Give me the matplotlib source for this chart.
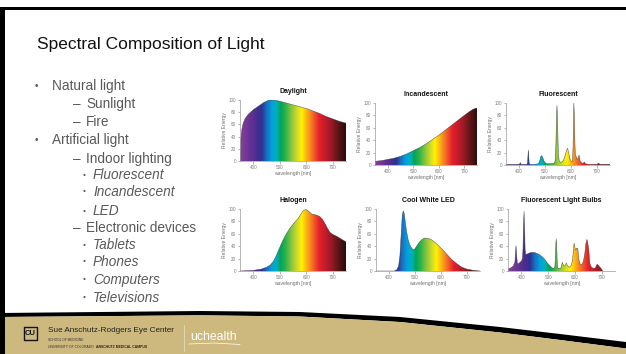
import numpy as np
import matplotlib
matplotlib.use('Agg')
import matplotlib.pyplot as plt
from matplotlib.colors import LinearSegmentedColormap, Normalize
from matplotlib.patches import Polygon, Rectangle

plt.rcParams['font.family'] = ['Liberation Sans', 'DejaVu Sans']

# ---------------- data ----------------
TITLE = 'Spectral Composition of Light'

BULLET_LEVELS = [1, 2, 2, 1, 2, 3, 3, 3, 2, 3, 3, 3, 3]
BULLET_TEXTS = ['Natural light', 'Sunlight', 'Fire', 'Artificial light',
                'Indoor lighting', 'Fluorescent', 'Incandescent', 'LED',
                'Electronic devices', 'Tablets', 'Phones', 'Computers',
                'Televisions']

PANEL_TITLES = ['Daylight', 'Incandescent', 'Fluorescent',
                'Halogen', 'Cool White LED', 'Fluorescent Light Bulbs']
X_TICKS = [400, 500, 600, 700]
Y_TICKS = [0, 20, 40, 60, 80, 100]
X_LABEL = 'wavelength [nm]'
Y_LABEL = 'Relative Energy'

DAY_NM = [350, 353, 357, 362, 370, 380, 390, 400, 420, 440, 460, 475, 490, 500,
          525, 550, 575, 600, 625, 650, 675, 700, 725, 750]
DAY_E = [0, 35, 52, 62, 70, 76, 80, 84, 90, 96, 100, 100, 99, 98,
         95, 92, 89, 86, 82, 78, 73, 69, 65, 62]

INC_NM = [350, 375, 400, 425, 450, 475, 500, 525, 550, 575, 600, 625, 650, 675,
          700, 720, 735, 750]
INC_E = [6, 7, 9, 11, 14, 18, 23, 28, 34, 41, 48, 56, 64, 72, 80, 86, 90, 92]

FLUOR_NM = [350, 380, 400, 403, 405, 408, 425, 431, 433, 435, 436, 437, 439, 441,
            460, 475, 480, 484, 487, 491, 496, 505, 520, 535, 538, 540, 542, 544,
            546, 548, 550, 552, 555, 562, 570, 575, 579, 583, 587, 591, 596, 602,
            604, 606, 608, 610, 611, 613, 615, 617, 620, 623, 627, 631, 635, 642,
            648, 651, 655, 670, 700, 706, 711, 730, 750]
FLUOR_E = [1, 1, 1, 2, 4, 1, 1, 1, 4, 18, 24, 18, 4, 1,
           1, 2, 7, 14, 15, 13, 6, 2, 2, 3, 5, 12, 35, 75,
           96, 80, 40, 15, 6, 4, 7, 12, 18, 24, 27, 20, 10, 5,
           5, 10, 30, 85, 100, 80, 35, 15, 14, 9, 11, 16, 6, 3,
           3, 5, 2, 1, 1, 3, 1, 1, 1]

HAL_NM = [350, 400, 430, 450, 465, 475, 485, 495, 505, 515, 525, 540, 555, 570,
          580, 590, 600, 610, 620, 630, 640, 650, 660, 670, 680, 690, 700, 715,
          730, 750]
HAL_E = [0, 1, 3, 6, 10, 15, 23, 33, 43, 52, 60, 70, 78, 85,
         92, 98, 99, 96, 92, 91, 90, 88, 84, 77, 69, 62, 59, 56, 52, 47]

LED_NM = [350, 420, 430, 437, 442, 447, 451, 455, 459, 463, 468, 474, 480, 487,
          494, 500, 508, 516, 525, 535, 545, 555, 565, 580, 600, 620, 640, 660,
          680, 700, 725, 750]
LED_E = [0, 0, 2, 8, 25, 60, 90, 97, 92, 78, 63, 50, 42, 37,
         34, 36, 41, 46, 50, 53, 53, 52, 50, 45, 37, 28, 19, 12, 6, 3, 1, 0]

BULB_NM = [350, 360, 370, 376, 378, 380, 382, 385, 390, 400, 404, 406, 408, 410,
           412, 414, 416, 420, 430, 440, 448, 455, 465, 475, 485, 495, 505, 515,
           521, 525, 527, 529, 530, 532, 534, 536, 540, 548, 553, 558, 563, 568,
           573, 580, 586, 590, 594, 597, 600, 603, 607, 611, 615, 620, 626, 632,
           637, 641, 645, 648, 652, 656, 662, 670, 677, 683, 688, 694, 700, 704]
BULB_E = [3, 5, 8, 15, 30, 41, 28, 12, 12, 16, 20, 35, 75, 96,
          70, 35, 27, 27, 29, 30, 30, 29, 27, 24, 20, 14, 9, 5,
          4, 6, 20, 45, 52, 40, 15, 5, 4, 5, 14, 9, 8, 13,
          8, 6, 9, 15, 30, 45, 38, 34, 37, 36, 18, 11, 10, 16,
          28, 44, 51, 46, 35, 12, 6, 4, 5, 11, 9, 6, 3, 0]

SERIES_NM = [DAY_NM, INC_NM, FLUOR_NM, HAL_NM, LED_NM, BULB_NM]
SERIES_E = [DAY_E, INC_E, FLUOR_E, HAL_E, LED_E, BULB_E]

FOOTER_NAME = 'Sue Anschutz-Rodgers Eye Center'
FOOTER_SCHOOL = 'SCHOOL OF MEDICINE'
FOOTER_UNIV = 'UNIVERSITY OF COLORADO '
FOOTER_CAMPUS = 'ANSCHUTZ MEDICAL CAMPUS'
FOOTER_BRAND = 'uchealth'

# ---------------- style / layout ----------------
SPEC_NM = [350, 380, 410, 432, 450, 470, 488, 503, 522, 545, 568, 583, 598,
           612, 630, 650, 675, 700, 725, 750]
SPEC_COL = ['#8a3f9e', '#6b3494', '#4e2d8e', '#2e3192', '#1b6fc0', '#00a2e0',
            '#00b0b8', '#00a45a', '#2fb34a', '#8cc63f', '#d7df23', '#fff200',
            '#fdc010', '#f7941d', '#f15a29', '#e5202a', '#c01b2c', '#8e1a22',
            '#561416', '#2a0c0c']
SPEC_CMAP = LinearSegmentedColormap.from_list(
    'spec', list(zip((np.array(SPEC_NM) - 350) / 400.0, SPEC_COL)))

W, H = 626, 354
GOLD = '#cdb87e'
TEXT_GREY = '#595959'

# panel boxes in pixels: left, right, top(100), bottom(0)
PANEL_BOX = [(240, 346, 100, 161), (375, 477, 103, 165), (506, 610, 103, 165),
             (240, 346, 209, 271), (376, 480, 209, 271), (508, 615, 209, 271)]
BULLET_Y = [86, 104, 122, 140, 159, 175, 192, 211, 228, 245, 262, 280, 298]

fig = plt.figure(figsize=(W / 100, H / 100), dpi=100)
fig.patch.set_facecolor('white')

bg = fig.add_axes([0, 0, 1, 1], zorder=0)
bg.set_xlim(0, W)
bg.set_ylim(H, 0)
bg.axis('off')

# slide border
bg.add_patch(Rectangle((0, 6.5), W, 3, color='black', lw=0))

# footer
fx = np.linspace(0, W, 200)
ftop = np.interp(fx, [0, 100, 200, 300, 400, 500, 560, 626],
                 [313, 312, 311, 312, 317, 327, 334, 342])
fthk = np.interp(fx, [0, 300, 500, 626], [4, 4.5, 5.5, 6.5])
bg.fill_between(fx, ftop, ftop + fthk, color='black', lw=0, zorder=2)
bg.fill_between(fx, ftop + fthk, H + 2, color=GOLD, lw=0, zorder=2)
bg.add_patch(Rectangle((0, 6.5), 4.5, H, color='black', lw=0, zorder=3))

# logo
bg.add_patch(Rectangle((23.5, 326.5), 13, 13, facecolor='none', edgecolor='#111',
                       lw=1.0, zorder=4, joinstyle='round'))
bg.text(30, 333.5, 'CU', fontsize=5.5, fontweight='bold', color='#111',
        ha='center', va='center', zorder=5)
bg.text(48, 331, FOOTER_NAME, fontsize=5.9, color='#222', ha='left',
        va='center', zorder=5)
bg.text(48, 340, FOOTER_SCHOOL, fontsize=2.3, color='#333', ha='left',
        va='center', zorder=5)
t1 = bg.text(48, 347, FOOTER_UNIV, fontsize=2.4, color='#333', ha='left',
             va='center', zorder=5)
fig.canvas.draw()
bb = t1.get_window_extent()
x_end = bg.transData.inverted().transform((bb.x1, bb.y0))[0]
bg.text(x_end + 1, 347, FOOTER_CAMPUS, fontsize=2.4, color='#222', ha='left',
        va='center', fontweight='bold', zorder=5)
bg.plot([184, 184], [325, 351], color='#e6dcbd', lw=0.6, zorder=5)
bg.text(190, 337, FOOTER_BRAND, fontsize=8.8, color='white', ha='left',
        va='center', zorder=5)
bg.plot([189, 214, 240], [344, 343, 344.5], color='white', lw=0.5, zorder=5)

# title
bg.text(37, 44, TITLE, fontsize=12.5, color='#111', ha='left', va='center')

# bullets
for lvl, txt, y in zip(BULLET_LEVELS, BULLET_TEXTS, BULLET_Y):
    if lvl == 1:
        bg.text(36, y, '•', fontsize=7, color=TEXT_GREY, ha='center', va='center')
        bg.text(52, y + 4.2, txt, fontsize=9.8, color=TEXT_GREY, ha='left',
                va='baseline')
    elif lvl == 2:
        bg.text(77, y + 4.2, '–', fontsize=9.8, color=TEXT_GREY, ha='center',
                va='baseline')
        bg.text(86, y + 4.2, txt, fontsize=9.8, color=TEXT_GREY, ha='left',
                va='baseline')
    else:
        bg.text(84, y, '•', fontsize=6, color=TEXT_GREY, ha='center', va='center')
        bg.text(93, y + 4.2, txt, fontsize=9.8, color=TEXT_GREY, ha='left',
                va='baseline', style='italic')

# spectral panels
for (l, r, t, b), title, nm, en in zip(PANEL_BOX, PANEL_TITLES, SERIES_NM, SERIES_E):
    ax = fig.add_axes([l / W, 1 - b / H, (r - l) / W, (b - t) / H], zorder=2)
    ax.patch.set_alpha(0)
    grad = np.linspace(350, 750, 800).reshape(1, -1)
    im = ax.imshow(grad, extent=(350, 750, 0, 100), origin='lower',
                   aspect='auto', cmap=SPEC_CMAP, norm=Normalize(350, 750),
                   interpolation='bilinear')
    verts = [(nm[0], 0)] + list(zip(nm, en)) + [(nm[-1], 0)]
    poly = Polygon(verts, closed=True, facecolor='none', edgecolor='none',
                   transform=ax.transData)
    ax.add_patch(poly)
    im.set_clip_path(poly)
    ax.plot(nm, en, color='#333333', lw=0.35, alpha=0.8)
    ax.set_xlim(350, 750)
    ax.set_ylim(0, 100)
    ax.set_xticks(X_TICKS)
    ax.set_yticks(Y_TICKS)
    ax.tick_params(labelsize=3.3, colors='#808080', length=1.8, width=0.4,
                   pad=1)
    for s in ['top', 'right']:
        ax.spines[s].set_visible(False)
    for s in ['left', 'bottom']:
        ax.spines[s].set_color('#999999')
        ax.spines[s].set_linewidth(0.5)
    ax.set_xlabel(X_LABEL, fontsize=3.6, color='#707070', labelpad=0.5)
    ax.set_ylabel(Y_LABEL, fontsize=3.6, color='#707070', labelpad=1.5)
    ax.set_title(title, fontsize=5, fontweight='bold', color='#111', pad=5)

fig.savefig('out.png', dpi=100, facecolor='white')
